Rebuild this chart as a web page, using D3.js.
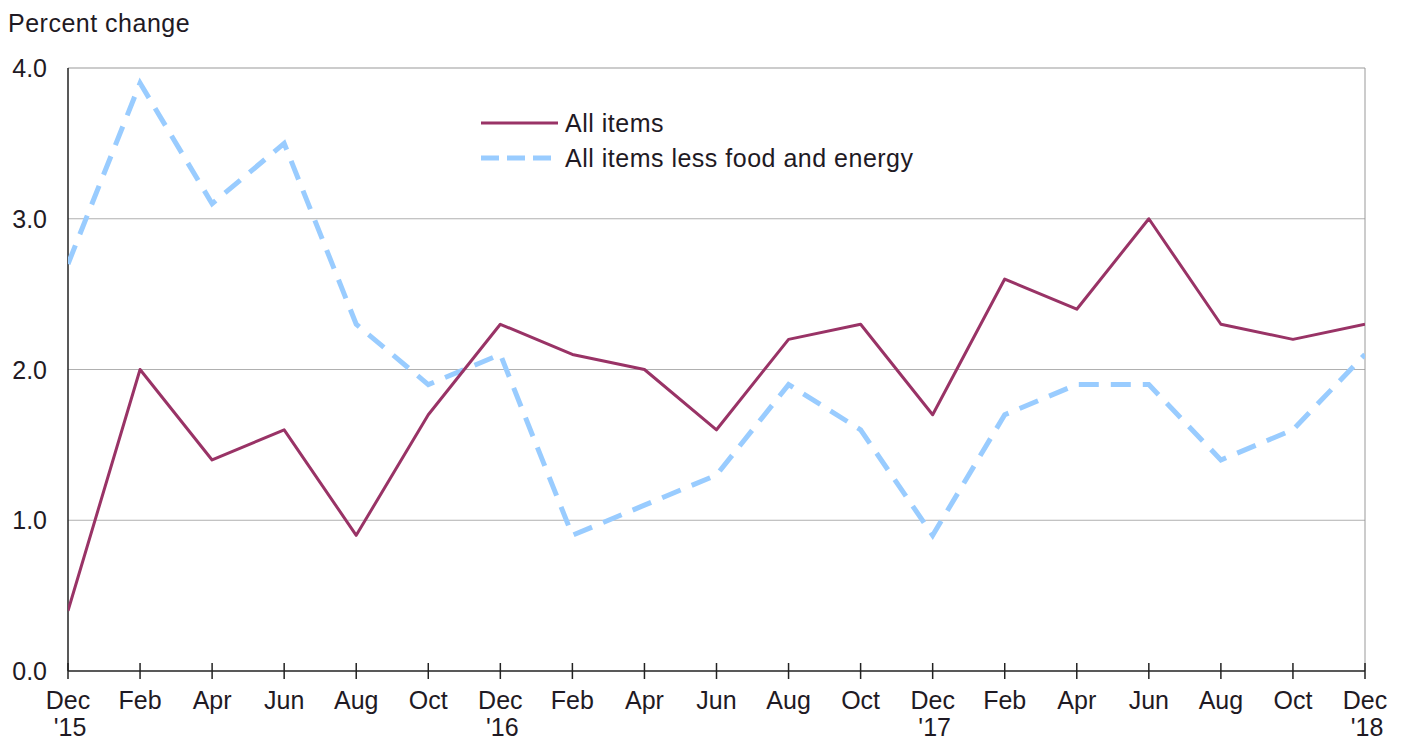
<!DOCTYPE html>
<html>
<head>
<meta charset="utf-8">
<script src="https://cdn.jsdelivr.net/npm/d3@7"></script>
<style>
  body { margin: 0; background: #fff; }
  svg { font-family: "Liberation Sans", Arial, sans-serif; }
</style>
</head>
<body>
<svg width="1403" height="743"></svg>
<script>
const months = ["Dec", "Feb", "Apr", "Jun", "Aug", "Oct", "Dec", "Feb", "Apr", "Jun",
                "Aug", "Oct", "Dec", "Feb", "Apr", "Jun", "Aug", "Oct", "Dec"];
const years = ["'15", "", "", "", "", "", "'16", "", "", "", "", "", "'17", "", "", "", "", "", "'18"];
const allItems = [0.4, 2.0, 1.4, 1.6, 0.9, 1.7, 2.3, 2.1, 2.0, 1.6, 2.2, 2.3, 1.7, 2.6, 2.4, 3.0, 2.3, 2.2, 2.3];
const coreItems = [2.7, 3.9, 3.1, 3.5, 2.3, 1.9, 2.1, 0.9, 1.1, 1.3, 1.9, 1.6, 0.9, 1.7, 1.9, 1.9, 1.4, 1.6, 2.1];
const yTicks = [0, 1, 2, 3, 4];

const plotLeft = 68, plotRight = 1365, plotTop = 68, plotBottom = 671;
const fontSize = "25px";
const textColor = "#1f1a24";

const svg = d3.select("svg");

const xScale = d3.scaleLinear().domain([0, months.length - 1]).range([plotLeft, plotRight]);
const yScale = d3.scaleLinear().domain([0, 4]).range([plotBottom, plotTop]);

// gridlines
svg.append("g")
   .selectAll("line")
   .data(yTicks.slice(1))
   .enter()
   .append("line")
   .attr("x1", plotLeft).attr("x2", plotRight)
   .attr("y1", d => yScale(d)).attr("y2", d => yScale(d))
   .attr("stroke", (d) => d === 4 ? "#999" : "#b0b0b0")
   .attr("stroke-width", 1);

svg.append("line")
   .attr("x1", plotRight).attr("x2", plotRight)
   .attr("y1", plotTop).attr("y2", plotBottom)
   .attr("stroke", "#999");

// y labels
svg.append("g")
   .selectAll("text")
   .data(yTicks)
   .enter()
   .append("text")
   .attr("x", 47)
   .attr("y", d => yScale(d))
   .attr("dy", "0.36em")
   .attr("text-anchor", "end")
   .style("font-size", fontSize)
   .attr("fill", textColor)
   .text(d => d.toFixed(1));

svg.append("text")
   .attr("x", 8).attr("y", 32)
   .style("font-size", fontSize)
   .style("letter-spacing", "0.5px")
   .attr("fill", textColor)
   .text("Percent change");

// axes lines
svg.append("line")
   .attr("x1", plotLeft).attr("x2", plotLeft)
   .attr("y1", plotTop).attr("y2", plotBottom)
   .attr("stroke", "#222").attr("stroke-width", 1.5);

svg.append("line")
   .attr("x1", plotLeft).attr("x2", plotRight)
   .attr("y1", plotBottom).attr("y2", plotBottom)
   .attr("stroke", "#222").attr("stroke-width", 1.5);

svg.append("g")
   .selectAll("line")
   .data(months)
   .enter()
   .append("line")
   .attr("x1", (d, i) => xScale(i)).attr("x2", (d, i) => xScale(i))
   .attr("y1", plotBottom - 8).attr("y2", plotBottom + 8)
   .attr("stroke", "#222").attr("stroke-width", 1.5);

const xLabels = svg.append("g")
   .selectAll("text")
   .data(months)
   .enter()
   .append("text")
   .attr("x", (d, i) => xScale(i))
   .attr("text-anchor", "middle")
   .style("font-size", fontSize)
   .attr("fill", textColor);

xLabels.append("tspan")
   .attr("x", (d, i) => xScale(i))
   .attr("y", 709)
   .text(d => d);

xLabels.append("tspan")
   .attr("x", (d, i) => xScale(i) + 2)
   .attr("y", 736)
   .text((d, i) => years[i]);

// lines
svg.append("clipPath").attr("id", "clip")
   .append("rect")
   .attr("x", plotLeft).attr("y", plotTop)
   .attr("width", plotRight - plotLeft).attr("height", plotBottom - plotTop);

const line = d3.line()
               .x((d, i) => xScale(i))
               .y(d => yScale(d));

svg.append("path")
   .datum(coreItems)
   .attr("clip-path", "url(#clip)")
   .attr("d", line)
   .attr("fill", "none")
   .attr("stroke", "#99ccff")
   .attr("stroke-width", 5)
   .attr("stroke-dasharray", "20,12");

svg.append("path")
   .datum(allItems)
   .attr("clip-path", "url(#clip)")
   .attr("d", line)
   .attr("fill", "none")
   .attr("stroke", "#993366")
   .attr("stroke-width", 3)
   .attr("stroke-linejoin", "round");

// legend
const legendInfo = [
  ["#993366", 3, null, "All items"],
  ["#99ccff", 5, "18,8", "All items less food and energy"]
];

const legend = svg.selectAll(".legend")
   .data(legendInfo)
   .enter()
   .append("g")
   .attr("class", "legend")
   .attr("transform", (d, i) => `translate(481, ${123 + i * 35})`);

legend.append("line")
   .attr("x1", 0).attr("x2", 77)
   .attr("y1", 0).attr("y2", 0)
   .attr("stroke", d => d[0])
   .attr("stroke-width", d => d[1])
   .attr("stroke-dasharray", d => d[2]);

legend.append("text")
   .attr("x", 84)
   .attr("dy", "0.36em")
   .style("font-size", fontSize)
   .style("letter-spacing", "0.5px")
   .attr("fill", textColor)
   .text(d => d[3]);
</script>
</body>
</html>
